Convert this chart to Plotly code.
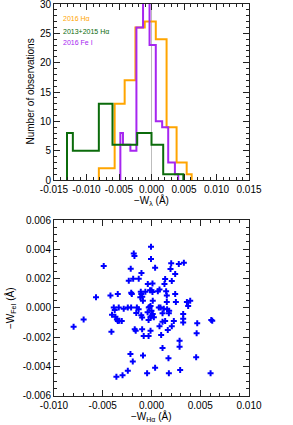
import plotly.graph_objects as go

# ---------------- data ----------------
# Histogram step edges (Angstrom) and counts
ha16_edges = [-0.0081, -0.00567, -0.00413, -0.00247, -0.00104, 0.00066, 0.00232, 0.00386, 0.00541, 0.00618]
ha16_counts = [2, 13, 17, 26, 27, 24, 9, 3, 1]

ha1315_edges = [-0.0130, -0.0121, -0.0081, -0.0060, -0.0022, 0.0000, 0.0018, 0.0049]
ha1315_counts = [8, 5, 13, 6, 8, 6, 1]

fe16_edges = [-0.00479, -0.00439, -0.00325, -0.00232, -0.0013, -0.0003, 0.00066, 0.00164, 0.00257, 0.0036, 0.00411]
fe16_counts = [8, 6, 5, 26, 34, 23, 10, 9, 3, 1]

# Scatter: -W(Halpha), -W(FeI) in units of 1e-3 Angstrom
w_ha_milli = [
    -7.99, -6.96, -5.69, -4.90, -4.21, -3.46, -4.11, -4.05, -3.87, -3.77,
    -3.70, -3.55, -3.45, -3.30, -3.05, -3.36, -2.85, -2.43, -2.09, -2.33,
    -1.88, -1.31, -2.13, -1.82, -1.75, -1.03, -0.05, -0.05, -2.08, -2.02,
    -1.10, -1.05, -0.95, -1.15, -0.63, -0.38, -0.15, -0.88, -1.50, -1.32,
    -1.56, -1.05, -0.40, -0.20, -0.10, -0.30, -0.96, -1.72, -1.62, -0.96,
    -0.80, -0.30, -0.10, -2.16, -1.92, -0.87, -2.43, -2.97, -3.60, -0.45,
    0.37, 2.02, 2.80, 3.32, 1.95, 2.43, 2.08, 1.40, 1.33, 0.82,
    0.65, 1.50, 1.57, 2.43, 0.10, 0.00, 0.10, 0.13, 1.57, 2.50,
    3.63, 3.97, 3.76, 0.75, 0.92, 1.26, 1.60, 1.81, 1.78, 1.13,
    0.00, 0.13, 0.24, 0.03, -0.28, -0.10, 1.13, 1.40, 2.08, 1.67,
    0.82, 0.99, 2.29, 3.25, 3.25, 3.25, 4.69, 4.63, 6.13, 6.23,
    1.13, 2.88, 2.88, 1.74, 4.58, 0.37, 1.78, 2.94, 6.06,
]
w_fe_milli = [
    -1.29, -0.79, 0.72, 2.86, 0.85, 0.94, -1.63, -0.47, 0.03, -0.15,
    -0.60, -0.80, -0.90, -0.88, -0.90, 0.03, -0.06, 0.03, 0.03, 1.85,
    1.99, 1.99, 2.67, 3.72, 3.54, 2.38, 4.17, 3.33, 1.03, 0.94,
    1.10, 0.94, 0.76, 0.72, 1.10, 1.63, 1.21, 0.49, 0.03, -0.10,
    -0.35, -0.50, -0.30, 0.06, -0.60, -0.83, -0.66, -1.47, -1.56, -1.47,
    -1.93, -1.93, -1.56, -3.16, -3.66, -3.25, -4.29, -4.61, -4.70, -4.47,
    2.74, 3.04, 2.99, 3.08, 2.65, 2.31, 1.83, 1.97, 1.63, 1.26,
    1.14, 1.14, 0.85, 0.94, 1.67, 1.21, 1.08, 0.49, 0.40, 0.40,
    0.40, 0.49, 0.12, 0.03, 0.03, -0.06, -0.10, -0.19, -0.37, -0.37,
    -0.19, -0.42, -0.65, -0.56, 0.03, 0.12, -0.95, -0.90, -1.25, -1.52,
    -1.25, -1.86, -0.90, -0.42, -0.75, -1.00, -1.06, -1.74, -0.83, -0.88,
    -2.75, -2.25, -2.66, -3.45, -3.38, -4.09, -4.47, -4.25, -4.47,
]

top_xticks = [-0.015, -0.010, -0.005, 0.0, 0.005, 0.010, 0.015]
top_xtext = ["-0.015", "-0.010", "-0.005", "0.000", "0.005", "0.010", "0.015"]
top_yticks = [0, 5, 10, 15, 20, 25, 30]
bot_xticks = [-0.010, -0.005, 0.0, 0.005, 0.010]
bot_xtext = ["-0.010", "-0.005", "0.000", "0.005", "0.010"]
bot_yticks = [-0.006, -0.004, -0.002, 0.0, 0.002, 0.004, 0.006]
bot_ytext = ["-0.006", "-0.004", "-0.002", "0.000", "0.002", "0.004", "0.006"]

legend_labels = ["2016 H\u03b1", "2013+2015 H\u03b1", "2016 Fe I"]

# ---------------- style ----------------
W, H = 293, 425
FONT = "Liberation Sans, Arial, Helvetica, sans-serif"
ORANGE = "#FFA500"
GREEN = "#0B6B0B"
PURPLE = "#A626F0"
BLUE = "#0000FF"


def step_xy(edges, counts):
    x = [edges[0]] + list(edges)
    y = [0] + list(counts) + [0]
    return x, y


fig = go.Figure()

# zero reference line
fig.add_shape(type="line", x0=0, x1=0, y0=0, y1=30, xref="x", yref="y",
              line=dict(color="#BDBDBD", width=1), layer="below")

for edges, counts, color in [
    (ha16_edges, ha16_counts, ORANGE),
    (fe16_edges, fe16_counts, PURPLE),
    (ha1315_edges, ha1315_counts, GREEN),
]:
    x, y = step_xy(edges, counts)
    fig.add_trace(go.Scatter(x=x, y=y, mode="lines", line_shape="hv",
                             line=dict(color=color, width=2),
                             showlegend=False, xaxis="x", yaxis="y"))

fig.add_trace(go.Scatter(
    x=[v * 1e-3 for v in w_ha_milli], y=[v * 1e-3 for v in w_fe_milli],
    mode="markers",
    marker=dict(symbol="cross", size=5, color=BLUE, line=dict(width=0)),
    showlegend=False, xaxis="x2", yaxis="y2"))


def px_x(p):
    return p / W


def px_y(p):
    return 1 - p / H


axis_common = dict(
    showgrid=False, zeroline=False, showline=True, linecolor="#222222",
    linewidth=1, mirror="allticks", ticks="inside", ticklen=6, tickwidth=1,
    tickcolor="#222222", tickangle=0, automargin=False,
    tickfont=dict(family=FONT, size=10, color="black"),
)

top_dom_x = [px_x(54), px_x(249)]
top_dom_y = [px_y(180), px_y(4)]
bot_dom_y = [px_y(395.7), px_y(220)]

fig.update_layout(
    template="none",
    width=W, height=H,
    margin=dict(l=0, r=0, t=0, b=0, pad=0),
    paper_bgcolor="white", plot_bgcolor="white",
    font=dict(family=FONT, size=10, color="black"),
    hovermode=False,
    xaxis=dict(domain=top_dom_x, anchor="y", range=[-0.015, 0.015],
               tickvals=top_xticks, ticktext=top_xtext,
               minor=dict(ticks="inside", ticklen=3, dtick=0.001, tickcolor="#222222"),
               **axis_common),
    yaxis=dict(domain=top_dom_y, anchor="x", range=[0, 30],
               tickvals=top_yticks,
               minor=dict(ticks="inside", ticklen=3, dtick=1, tickcolor="#222222"),
               **axis_common),
    xaxis2=dict(domain=top_dom_x, anchor="y2", range=[-0.010, 0.010],
                tickvals=bot_xticks, ticktext=bot_xtext,
                minor=dict(ticks="inside", ticklen=3, dtick=0.001, tickcolor="#222222"),
                **axis_common),
    yaxis2=dict(domain=bot_dom_y, anchor="x2", range=[-0.006, 0.006],
                tickvals=bot_yticks, ticktext=bot_ytext,
                minor=dict(ticks="inside", ticklen=3, dtick=0.0005, tickcolor="#222222"),
                **axis_common),
)

annotations = [
    dict(text="Number of observations", x=px_x(30), y=px_y(91.5), textangle=-90,
         font=dict(size=10)),
    dict(text="\u2212W<sub>\u03bb</sub> (\u00c5)", x=px_x(151), y=px_y(200),
         font=dict(size=10)),
    dict(text="\u2212W<sub>H\u03b1</sub> (\u00c5)", x=px_x(151.7), y=px_y(416),
         font=dict(size=10)),
    dict(text="\u2212W<sub>FeI</sub> (\u00c5)", x=px_x(10), y=px_y(308), textangle=-90,
         font=dict(size=10)),
]
for label, color, ypx in zip(legend_labels, [ORANGE, GREEN, PURPLE], [19, 31.7, 42.7]):
    annotations.append(dict(text=label, x=px_x(61), y=px_y(ypx), xanchor="left",
                            font=dict(size=7, color=color)))

for a in annotations:
    a.setdefault("xanchor", "center")
    a.update(xref="paper", yref="paper", showarrow=False, yanchor="middle")
    a["font"].setdefault("family", FONT)
    a["font"].setdefault("color", "black")
fig.update_layout(annotations=annotations)

fig.write_html(
    "out.html",
    config={"displayModeBar": False, "staticPlot": True},
    post_script="document.body.style.margin='0';document.body.style.padding='0';"
                "document.body.style.overflow='hidden';",
)
